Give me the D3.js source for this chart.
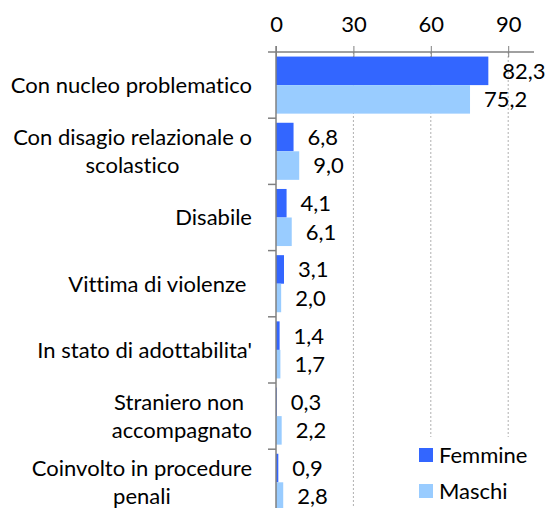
<!DOCTYPE html>
<html>
<head>
<meta charset="utf-8">
<script src="https://cdn.jsdelivr.net/npm/d3@7"></script>
<style>
  body { margin: 0; background: #fff; }
  svg { display: block; font-family: Lato, "Open Sans", sans-serif; }
  text { white-space: pre; font-variant-ligatures: none; font-feature-settings: "liga" 0; }
</style>
</head>
<body>
<svg></svg>
<script>
const categories = [
  "Con nucleo problematico",
  "Con disagio relazionale o scolastico",
  "Disabile",
  "Vittima di violenze",
  "In stato di adottabilita'",
  "Straniero non accompagnato",
  "Coinvolto in procedure penali"
];
const label_lines = [
  ["Con nucleo problematico"],
  ["Con disagio relazionale o", "scolastico"],
  ["Disabile"],
  ["Vittima di violenze "],
  ["In stato di adottabilita'"],
  ["Straniero non ", "accompagnato"],
  ["Coinvolto in procedure", "penali"]
];
const series = ["Femmine", "Maschi"];
const femmine = [82.3, 6.8, 4.1, 3.1, 1.4, 0.3, 0.9];
const maschi = [75.2, 9.0, 6.1, 2.0, 1.7, 2.2, 2.8];
const x_ticks = [0, 30, 60, 90];
const colors = { Femmine: "#3366ff", Maschi: "#99ccff" };

const width = 547, height = 508;
const margin = { left: 276, right: 13, top: 52 };
const font_size = 22;

const svg = d3.select("svg").attr("width", width).attr("height", height);

const data = categories.map((c, i) => ({ cat: c, Femmine: femmine[i], Maschi: maschi[i] }));

const x_scale = d3.scaleLinear().domain([0, 100]).range([margin.left, width - margin.right]);
const y_scale = d3.scaleBand().domain(categories).range([margin.top, margin.top + 7 * 66.2]);
const y_inner = d3.scaleBand().domain(series).range([0, y_scale.bandwidth()]).paddingOuter(0.16);

const fmt = (v) => d3.format(".1f")(v).replace(".", ",");

// gridlines
svg.append("g")
  .selectAll("line")
  .data(x_ticks.filter(d => d > 0))
  .join("line")
  .attr("x1", d => x_scale(d)).attr("x2", d => x_scale(d))
  .attr("y1", margin.top).attr("y2", y_scale.range()[1])
  .attr("stroke", "#b0b0b0")
  .attr("stroke-dasharray", "2,2");

// bars
const groups = svg.append("g")
  .selectAll("g")
  .data(data)
  .join("g")
  .attr("transform", d => `translate(0,${y_scale(d.cat)})`);

groups.selectAll("rect")
  .data(d => series.map(s => ({ s, v: d[s] })))
  .join("rect")
  .attr("x", x_scale(0))
  .attr("y", d => y_inner(d.s))
  .attr("width", d => x_scale(d.v) - x_scale(0))
  .attr("height", y_inner.bandwidth())
  .attr("fill", d => colors[d.s]);

groups.selectAll("text")
  .data(d => series.map(s => ({ s, v: d[s] })))
  .join("text")
  .attr("x", d => x_scale(d.v) + 14)
  .attr("y", d => y_inner(d.s) + y_inner.bandwidth() / 2)
  .attr("dy", "0.36em")
  .style("font-size", font_size + "px")
  .attr("fill", "#000")
  .text(d => fmt(d.v));

// top axis
const x_axis = d3.axisTop(x_scale)
  .tickValues(x_ticks)
  .tickSizeInner(6)
  .tickSizeOuter(0)
  .tickPadding(14);

const ax = svg.append("g")
  .attr("transform", `translate(0,${margin.top})`)
  .call(x_axis);
ax.select(".domain").attr("stroke", "#808080").attr("stroke-width", 1.5)
  .attr("d", `M${x_scale(0) - 8},0H${x_scale(100)}`);
ax.selectAll(".tick line").attr("stroke", "#808080").attr("y1", 5).attr("y2", -6);
ax.selectAll(".tick text")
  .style("font-size", font_size + "px")
  .style("font-family", "Lato, sans-serif")
  .attr("fill", "#000");

// left axis
const y_axis = svg.append("g");
y_axis.append("line")
  .attr("x1", x_scale(0)).attr("x2", x_scale(0))
  .attr("y1", margin.top - 6).attr("y2", y_scale.range()[1])
  .attr("stroke", "#808080").attr("stroke-width", 1.5);
y_axis.selectAll(".ytick")
  .data(categories.slice(1).concat(["end"]))
  .join("line")
  .attr("x1", x_scale(0) - 8).attr("x2", x_scale(0))
  .attr("y1", (d, i) => y_scale(categories[0]) + (i + 1) * y_scale.step())
  .attr("y2", (d, i) => y_scale(categories[0]) + (i + 1) * y_scale.step())
  .attr("stroke", "#808080").attr("stroke-width", 1.5);

// category labels
const label_right = 252, line_h = 28.5;
categories.forEach((c, i) => {
  const lines = label_lines[i];
  const g = svg.append("g");
  const cy = y_scale(c) + y_scale.bandwidth() / 2;
  const texts = lines.map((ln, j) => g.append("text")
    .attr("y", cy + (j - (lines.length - 1) / 2) * line_h)
    .attr("dy", "0.36em")
    .attr("text-anchor", "middle")
    .style("font-size", font_size + "px")
    .text(ln));
  const w = d3.max(texts, t => t.node().getComputedTextLength());
  texts.forEach(t => t.attr("x", label_right - w / 2));
});

// legend
const legend = svg.append("g");
legend.append("rect")
  .attr("x", 410).attr("y", 437).attr("width", 137).attr("height", 71)
  .attr("fill", "#fff");
series.forEach((s, i) => {
  legend.append("rect")
    .attr("x", 419).attr("y", 448 + i * 36)
    .attr("width", 14).attr("height", 14)
    .attr("fill", colors[s]);
  legend.append("text")
    .attr("x", 439).attr("y", 455 + i * 36)
    .attr("dy", "0.36em")
    .style("font-size", font_size + "px")
    .text(s);
});
</script>
</body>
</html>
